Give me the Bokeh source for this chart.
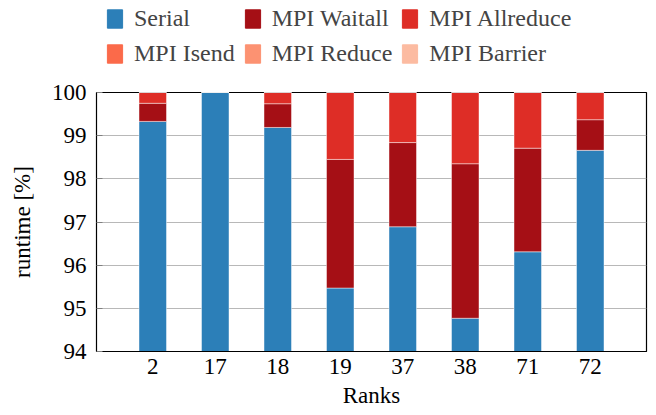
from bokeh.plotting import figure
from bokeh.layouts import column
from bokeh.models import FactorRange, Range1d, Legend, LegendItem, FixedTicker, ColumnDataSource
from bokeh.embed import file_html
from bokeh.resources import INLINE

ranks = ["2", "17", "18", "19", "37", "38", "71", "72"]
serial = [99.33, 100.0, 99.19, 95.47, 96.89, 94.77, 96.31, 98.66]
mpi_waitall = [0.42, 0.0, 0.55, 2.98, 1.95, 3.58, 2.40, 0.71]
mpi_allreduce = [0.25, 0.0, 0.26, 1.55, 1.16, 1.65, 1.29, 0.63]
mpi_isend = [0.0, 0.0, 0.0, 0.0, 0.0, 0.0, 0.0, 0.0]
mpi_reduce = [0.0, 0.0, 0.0, 0.0, 0.0, 0.0, 0.0, 0.0]
mpi_barrier = [0.0, 0.0, 0.0, 0.0, 0.0, 0.0, 0.0, 0.0]
series_names = ["Serial", "MPI Waitall", "MPI Allreduce", "MPI Isend", "MPI Reduce", "MPI Barrier"]
colors = ["#2c7fb8", "#a50f15", "#de2d26", "#fb6a4a", "#fc9272", "#fcbba1"]
y_ticks = [94, 95, 96, 97, 98, 99, 100]

FONT = "Liberation Serif"

source = ColumnDataSource(data=dict(
    ranks=ranks, s0=serial, s1=mpi_waitall, s2=mpi_allreduce,
    s3=mpi_isend, s4=mpi_reduce, s5=mpi_barrier))
keys = ["s0", "s1", "s2", "s3", "s4", "s5"]

xr = FactorRange(factors=ranks, range_padding=0.4, range_padding_units="absolute")

# ---- legend strip (separate figure above the chart; its bars lie outside its view) ----
lg = figure(width=648, height=78, x_range=xr, y_range=Range1d(200, 201),
            output_backend="svg", toolbar_location=None,
            x_axis_location=None, y_axis_location=None,
            min_border_left=0, min_border_right=0, min_border_top=0, min_border_bottom=0)
lg.outline_line_color = None
lg.grid.grid_line_color = None
proxies = lg.vbar_stack(keys, x="ranks", width=0.44, color=colors, source=source)
legend = Legend(items=[LegendItem(label=n, renderers=[r]) for n, r in zip(series_names, proxies)],
                orientation="horizontal", ncols=3, location=(9, 11),
                label_text_font=FONT, label_text_font_size="24px",
                glyph_width=19, glyph_height=23, label_height=23,
                label_standoff=10, spacing=8, padding=0, margin=0,
                border_line_color=None, background_fill_alpha=0)
lg.add_layout(legend, "center")

# ---- main chart ----
p = figure(x_range=xr, y_range=Range1d(94, 100),
           width=648, height=332, output_backend="svg", toolbar_location=None,
           min_border_left=96, min_border_right=2, min_border_top=14, min_border_bottom=10)

p.vbar_stack(keys, x="ranks", width=0.44, color=colors, source=source,
             line_color="white", line_alpha=0.45, line_width=1)

p.outline_line_color = "black"
p.outline_line_width = 1.2
p.xgrid.grid_line_color = None
p.ygrid.grid_line_color = "#b8b8b8"
p.ygrid.grid_line_width = 1
p.ygrid.ticker = FixedTicker(ticks=y_ticks)

p.yaxis.ticker = FixedTicker(ticks=y_ticks)
p.yaxis.axis_label = "runtime [%]"
p.xaxis.axis_label = "Ranks"
for ax in [p.xaxis[0], p.yaxis[0]]:
    ax.axis_label_text_font = FONT
    ax.axis_label_text_font_style = "normal"
    ax.axis_label_text_font_size = "23px"
    ax.major_label_text_font = FONT
    ax.major_label_text_font_size = "23px"
    ax.axis_line_color = "black"
    ax.major_label_text_color = "black"
    ax.axis_label_text_color = "black"

p.yaxis.major_tick_in = 6
p.yaxis.major_tick_out = 0
p.yaxis.major_tick_line_color = "#808080"
p.yaxis.minor_tick_line_color = None
p.yaxis.major_label_standoff = 10
p.yaxis.axis_label_standoff = 14
p.xaxis.major_tick_line_color = None
p.xaxis.major_tick_in = 0
p.xaxis.major_tick_out = 0
p.xaxis.major_label_standoff = 7
p.xaxis.axis_label_standoff = 6

layout = column(lg, p, spacing=0)
open("out.html", "w").write(file_html(layout, INLINE))
